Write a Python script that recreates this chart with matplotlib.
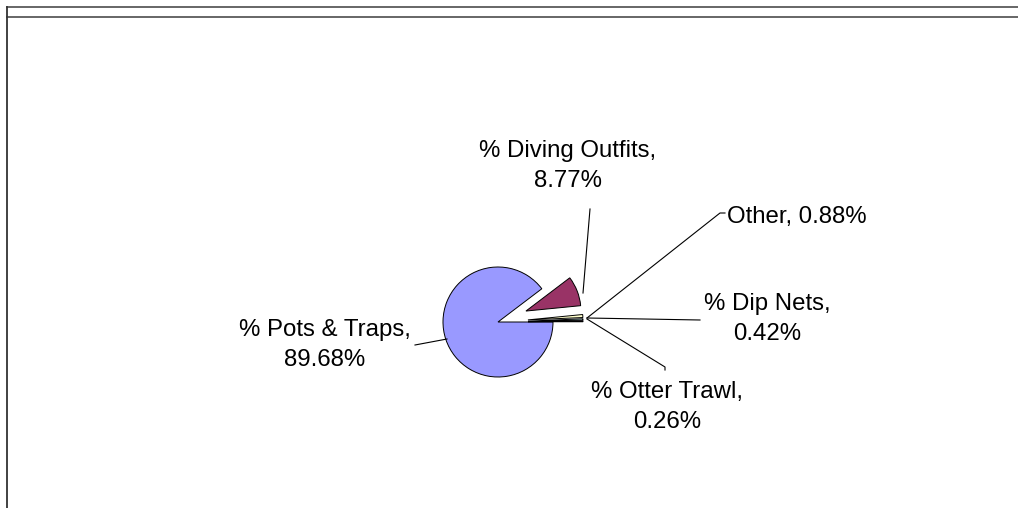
import matplotlib.pyplot as plt

# данные круговой диаграммы (порядок как в Excel, по часовой стрелке от 3 часов)
categories = ['% Pots & Traps', '% Diving Outfits', 'Other', '% Dip Nets', '% Otter Trawl']
shares = [89.68, 8.77, 0.88, 0.42, 0.26]
label_texts = ['% Pots & Traps,\n89.68%', '% Diving Outfits,\n8.77%', 'Other, 0.88%',
               '% Dip Nets,\n0.42%', '% Otter Trawl,\n0.26%']

colors = ['#9999FF', '#993366', '#FFFFCC', '#CCFFFF', '#660066']

W, H = 1018, 508
plt.rcParams['font.family'] = ['Liberation Sans', 'DejaVu Sans']

fig = plt.figure(figsize=(W / 100, H / 100), dpi=100)
ax = fig.add_axes([0, 0, 1, 1])


def py(y):
    # пиксели сверху -> координаты снизу
    return H - y


cx, cy, r = 498, 322, 55
# при заданном center/radius смещение секторов задаётся в единицах данных
off = 30
explode = [0, off, off, off, off]
ax.pie(shares, colors=colors, explode=explode, startangle=0, counterclock=False,
       center=(cx, py(cy)), radius=r, frame=True,
       wedgeprops=dict(edgecolor='black', linewidth=0.7))

ax.set_xlim(0, W)
ax.set_ylim(0, H)
ax.set_aspect('equal')
ax.axis('off')

# рамка области диаграммы
frame_col = '#5a5a5a'
ax.plot([7, W], [py(7), py(7)], color=frame_col, lw=1.3)
ax.plot([7, W], [py(17), py(17)], color=frame_col, lw=1.3)
ax.plot([7.5, 7.5], [py(7), 0], color='#333333', lw=1.3)

# выноски: (точка текста, излом, точка на секторе)
leaders = [
    [(415, 345), (447, 339)],
    [(590, 209), (583, 293)],
    [(725, 213), (720, 213), (587, 318)],
    [(700, 320), (587, 318)],
    [(665, 370), (665, 367), (587, 319)],
]
for pts in leaders:
    ax.plot([p[0] for p in pts], [py(p[1]) for p in pts], color='black', lw=0.8)

fs = 17.3
text_pos = [(325, 345, 'center'), (568, 166, 'center'), (727, 217, 'left'),
            (767, 319, 'center'), (667, 407, 'center')]
for txt, (x, y, ha) in zip(label_texts, text_pos):
    ax.text(x, py(y), txt, ha=ha, va='center', fontsize=fs, linespacing=1.5,
            multialignment='center')

fig.savefig('out.png', dpi=100)
